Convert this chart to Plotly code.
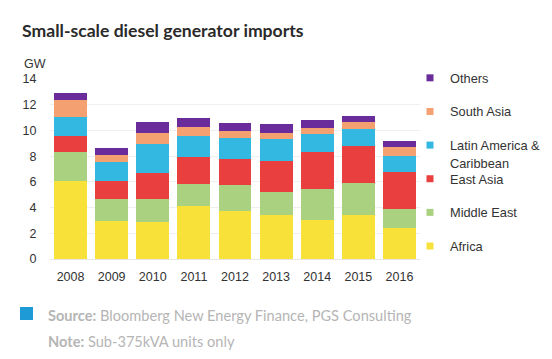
import plotly.graph_objects as go

years = ["2008", "2009", "2010", "2011", "2012", "2013", "2014", "2015", "2016"]
africa = [6.07, 2.97, 2.87, 4.11, 3.72, 3.39, 3.00, 3.39, 2.40]
middle_east = [2.22, 1.71, 1.83, 1.70, 2.07, 1.83, 2.48, 2.55, 1.48]
east_asia = [1.27, 1.42, 1.99, 2.15, 2.01, 2.43, 2.81, 2.85, 2.92]
latin_america = [1.50, 1.42, 2.25, 1.57, 1.58, 1.68, 1.43, 1.34, 1.21]
south_asia = [1.29, 0.59, 0.85, 0.73, 0.59, 0.46, 0.46, 0.54, 0.67]
others = [0.57, 0.55, 0.83, 0.70, 0.62, 0.70, 0.67, 0.49, 0.52]

series = [
    ("Africa", africa, "#F8E23A"),
    ("Middle East", middle_east, "#A9D17F"),
    ("East Asia", east_asia, "#E9403F"),
    ("Latin America & Caribbean", latin_america, "#33B8E2"),
    ("South Asia", south_asia, "#F5A070"),
    ("Others", others, "#6A2B9B"),
]
legend_labels = ["Africa", "Middle East", "East Asia", "Latin America &", "South Asia", "Others"]

OFF = 8  # page body margin offset
L, T, PW, PH = 50 - OFF, 79 - OFF, 370, 180


def px(xp):
    return (xp - OFF - L) / PW


def py(yp):
    return 1 - (yp - OFF - T) / PH


fig = go.Figure()
n = len(series)
for i, (name, vals, col) in enumerate(series):
    fig.add_trace(go.Bar(x=years, y=vals, name=name, marker_color=col,
                         marker_line_width=0, showlegend=False))
# legend proxies with small square symbols
for i, (name, vals, col) in enumerate(series):
    fig.add_trace(go.Scatter(x=[None], y=[None], mode="markers", name=legend_labels[i],
                             marker=dict(symbol="square", size=7, color=col),
                             legendgroup=str(i), legendrank=n - i, hoverinfo="skip"))

fig.update_layout(
    barmode="stack",
    width=552, height=359,
    margin=dict(l=L, r=552 - L - PW, t=T, b=359 - T - PH, autoexpand=False),
    paper_bgcolor="white", plot_bgcolor="white",
    bargap=0.2,
    font=dict(family="Liberation Sans, Arial, sans-serif", size=13, color="#333333"),
    legend=dict(x=px(410), y=py(63), xanchor="left", yanchor="top",
                traceorder="grouped", tracegroupgap=14, itemwidth=30,
                valign="top", font=dict(size=12.8, color="#333333"),
                bgcolor="rgba(0,0,0,0)", maxheight=300),
    showlegend=True,
)
fig.update_xaxes(showgrid=False, showline=True, linecolor="#e6e6e6",
                 ticks="outside", ticklen=6, tickcolor="white",
                 tickfont=dict(size=12.5, color="#333333"))
fig.update_yaxes(range=[0, 14], dtick=2, showgrid=True, gridcolor="#efefef",
                 zeroline=False, ticks="outside", ticklen=10, tickcolor="white",
                 tickfont=dict(size=12.5, color="#333333"))

fig.add_annotation(text="Caribbean", xref="paper", yref="paper", x=px(448), y=py(163),
                   xanchor="left", yanchor="middle", showarrow=False,
                   font=dict(size=12.8, color="#333333"))
fig.add_annotation(text="<b>Small-scale diesel generator imports</b>", xref="paper", yref="paper",
                   x=px(20), y=py(30), xanchor="left", yanchor="middle",
                   showarrow=False, font=dict(family="Lato, sans-serif", size=17.6, color="#2a2a2a"))
fig.add_annotation(text="GW", xref="paper", yref="paper", x=px(22), y=py(64),
                   xanchor="left", yanchor="middle", showarrow=False,
                   font=dict(size=12.5, color="#333333"))
fig.add_shape(type="rect", xref="paper", yref="paper",
              x0=px(20), x1=px(33), y0=py(307), y1=py(320),
              fillcolor="#1E9AD6", line_width=0)
fig.add_annotation(text="<b>Source:</b> Bloomberg New Energy Finance, PGS Consulting",
                   xref="paper", yref="paper", x=px(46), y=py(315),
                   xanchor="left", yanchor="middle", showarrow=False,
                   font=dict(family="Lato, sans-serif", size=14.6, color="#b5b5b5"))
fig.add_annotation(text="<b>Note:</b> Sub-375kVA units only",
                   xref="paper", yref="paper", x=px(46), y=py(341),
                   xanchor="left", yanchor="middle", showarrow=False,
                   font=dict(family="Lato, sans-serif", size=14.6, color="#b5b5b5"))

fig.write_html("out.html")
